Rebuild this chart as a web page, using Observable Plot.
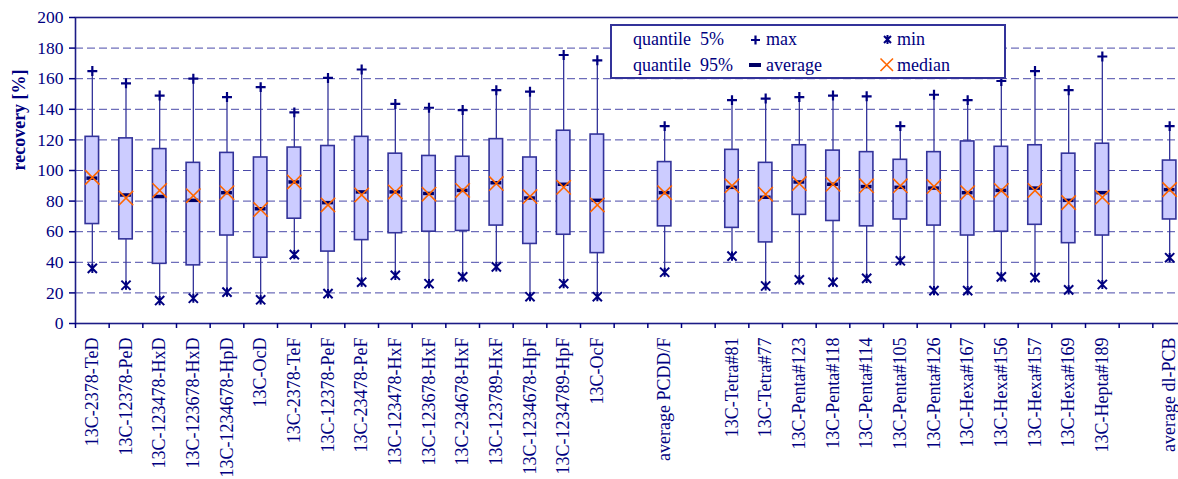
<!DOCTYPE html>
<html>
<head>
<meta charset="utf-8">
<script src="https://cdn.jsdelivr.net/npm/d3@7"></script>
<script src="https://cdn.jsdelivr.net/npm/@observablehq/plot@0.6"></script>
<style>
  html, body { margin: 0; padding: 0; overflow: hidden; background: #fff; }
  #wrap { position: relative; width: 1178px; height: 479px; overflow: hidden; }
  #chart svg { max-width: none !important; }
  #legend {
    position: absolute; left: 610px; top: 24px; width: 392px; height: 51px;
    border: 2px solid #33339a; background: #fff;
    font-family: "Liberation Serif", "Times New Roman", serif; font-size: 18px; color: #000080;
  }
  #legend span { position: absolute; white-space: pre; line-height: 1; }
  #legend svg { position: absolute; overflow: visible; }
</style>
</head>
<body>
<div id="wrap">
  <div id="chart"></div>
  <div id="legend">
    <span style="left:21px; top:4px">quantile  5%</span>
    <span style="left:21px; top:30px">quantile  95%</span>
    <svg style="left:139px; top:9px" width="10" height="10"><path d="M0,5H9M4.5,0.5V9.5" stroke="#000080" stroke-width="2.2" fill="none"/></svg>
    <span style="left:154px; top:4px">max</span>
    <svg style="left:137px; top:37px" width="13" height="5"><rect x="0" y="0" width="12" height="4" fill="#000066"/></svg>
    <span style="left:154px; top:30px">average</span>
    <svg style="left:271px; top:9px" width="10" height="10"><path d="M1,1L8,8M8,1L1,8M4.5,0V9" stroke="#000080" stroke-width="2" fill="none"/></svg>
    <span style="left:285px; top:4px">min</span>
    <svg style="left:268px; top:32px" width="14" height="14"><path d="M0.5,0.5L13,13M13,0.5L0.5,13" stroke="#ff6600" stroke-width="1.6" fill="none"/></svg>
    <span style="left:285px; top:30px">median</span>
  </div>
</div>
<script>
// Category order on the x axis ("_gapN" = empty slots)
const categories = [
  "13C-2378-TeD", "13C-12378-PeD", "13C-123478-HxD", "13C-123678-HxD", "13C-1234678-HpD",
  "13C-OcD", "13C-2378-TeF", "13C-12378-PeF", "13C-23478-PeF", "13C-123478-HxF",
  "13C-123678-HxF", "13C-234678-HxF", "13C-123789-HxF", "13C-1234678-HpF", "13C-1234789-HpF",
  "13C-OcF", "_gap1", "average PCDD/F", "_gap2",
  "13C-Tetra#81", "13C-Tetra#77", "13C-Penta#123", "13C-Penta#118", "13C-Penta#114",
  "13C-Penta#105", "13C-Penta#126", "13C-Hexa#167", "13C-Hexa#156", "13C-Hexa#157",
  "13C-Hexa#169", "13C-Hepta#189", "_gap3", "average dl-PCB"
];

// Compounds that have a box (same order as the value arrays)
const compounds = categories.filter(c => !c.startsWith("_"));

const maxValues = [165, 157, 149, 160, 148, 154.5, 138, 160.5, 166, 143.5, 141, 139.5, 152.5, 151.5, 175.5, 172,
  129,
  146, 147, 148, 149, 148.5, 129, 149.5, 146, 158.5, 165, 152.5, 174.5,
  129];
const q95Values = [122, 121, 114, 105, 111.5, 108.5, 115, 116, 122, 111, 109.5, 109, 120.5, 108.5, 126, 123.5,
  105.5,
  113.5, 105, 116.5, 113, 112, 107, 112, 119, 115.5, 116.5, 111, 117.5,
  106.5];
const averageValues = [95, 84, 83, 80.5, 85.5, 75, 92.5, 79, 86, 86, 85, 87, 92, 82, 91, 80.5,
  85.5,
  89, 82.5, 92.5, 91, 89.5, 89, 88.5, 85.5, 87, 88.5, 80.5, 85.5,
  87.5];
const medianValues = [95.5, 82, 87, 83.5, 85.5, 74.5, 92.5, 77.5, 84, 86, 84.5, 87, 91.5, 83, 89, 77.5,
  85.5,
  90, 84.5, 91.5, 91, 90, 90, 89.5, 85.5, 87, 87, 79, 82.5,
  87.5];
const q5Values = [65, 55, 39, 38, 57.5, 43, 68.5, 47, 54.5, 59, 60, 60.5, 64, 52, 58, 46,
  63.5,
  62.5, 53, 71, 67, 63.5, 68, 64, 57.5, 60, 64.5, 52.5, 57.5,
  68];
const minValues = [36, 25, 15, 16.5, 20.5, 15.5, 45, 19.5, 27, 31.5, 26, 30.5, 37, 17.5, 26, 17.5,
  33.5,
  44, 24.5, 28.5, 27, 29.5, 41, 21.5, 21.5, 30.5, 30, 22, 25.5,
  43];
const yTicks = [0, 20, 40, 60, 80, 100, 120, 140, 160, 180, 200];
const gridValues = [20, 40, 60, 80, 100, 120, 140, 160, 180];

const data = compounds.map((name, i) => ({
  name, max: maxValues[i], q95: q95Values[i], avg: averageValues[i],
  median: medianValues[i], q5: q5Values[i], min: minValues[i]
}));

const width = 1186, marginLeft = 75, marginRight = 0;
const band = (width - marginLeft - marginRight) / categories.length;

const starSymbol = {
  draw(ctx, size) {
    const r = Math.sqrt(size / Math.PI);
    ctx.moveTo(-r, -r); ctx.lineTo(r, r);
    ctx.moveTo(r, -r); ctx.lineTo(-r, r);
    ctx.moveTo(0, -r); ctx.lineTo(0, r);
  }
};

const navy = "#000080";
const boxStroke = "#33339a";

const chart = Plot.plot({
  width, height: 479,
  marginLeft, marginRight, marginTop: 17, marginBottom: 156,
  style: { fontFamily: "'Liberation Serif', 'Times New Roman', serif", color: navy, fontSize: "18px", background: "#fff", maxWidth: "none" },
  x: { type: "band", domain: categories, padding: 0, round: false, axis: null, label: null },
  y: { domain: [0, 200], axis: null, label: null },
  marks: [
    Plot.ruleY(gridValues, { stroke: "#2a2a9a", strokeWidth: 1, strokeDasharray: "8,4", strokeOpacity: 0.85 }),
    Plot.ruleX(data, { x: "name", y1: "min", y2: "max", stroke: boxStroke, strokeWidth: 1.3 }),
    Plot.barY(data, { x: "name", y1: "q5", y2: "q95", fill: "#ccccff", stroke: boxStroke, strokeWidth: 1.6, insetLeft: 10.1, insetRight: 10.1 }),
    Plot.tickY(data, { x: "name", y: "avg", stroke: "#000066", strokeWidth: 3.5, insetLeft: 11.4, insetRight: 11.4 }),
    Plot.dot(data, { x: "name", y: "median", symbol: "times", r: 6.6, stroke: "#ff6600", strokeWidth: 1.6 }),
    Plot.dot(data, { x: "name", y: "max", symbol: "plus", r: 3.3, stroke: navy, strokeWidth: 2.2 }),
    Plot.dot(data, { x: "name", y: "min", symbol: starSymbol, r: 4.6, stroke: navy, strokeWidth: 2 }),
    Plot.frame({ stroke: "#1c1c86", strokeWidth: 1.6 }),
    Plot.axisY({ ticks: yTicks, tickSize: 6, tickPadding: 6, fontSize: 17.5, stroke: navy, strokeWidth: 1.5, label: null }),
    Plot.axisX({ tickSize: 5, dx: -band / 2, text: null, stroke: navy, strokeWidth: 1.5, label: null }),
    Plot.axisX({ tickSize: 0, tickRotate: -90, tickPadding: 14, fontSize: 18, label: null,
      tickFormat: d => d.startsWith("_") ? "" : d }),
    Plot.text(["recovery [%]"], { frameAnchor: "left", dx: -56, rotate: -90, fontWeight: "bold", fontSize: 18, fill: navy })
  ]
});
chart.style.maxWidth = "none";
document.getElementById("chart").appendChild(chart);
</script>
</body>
</html>
